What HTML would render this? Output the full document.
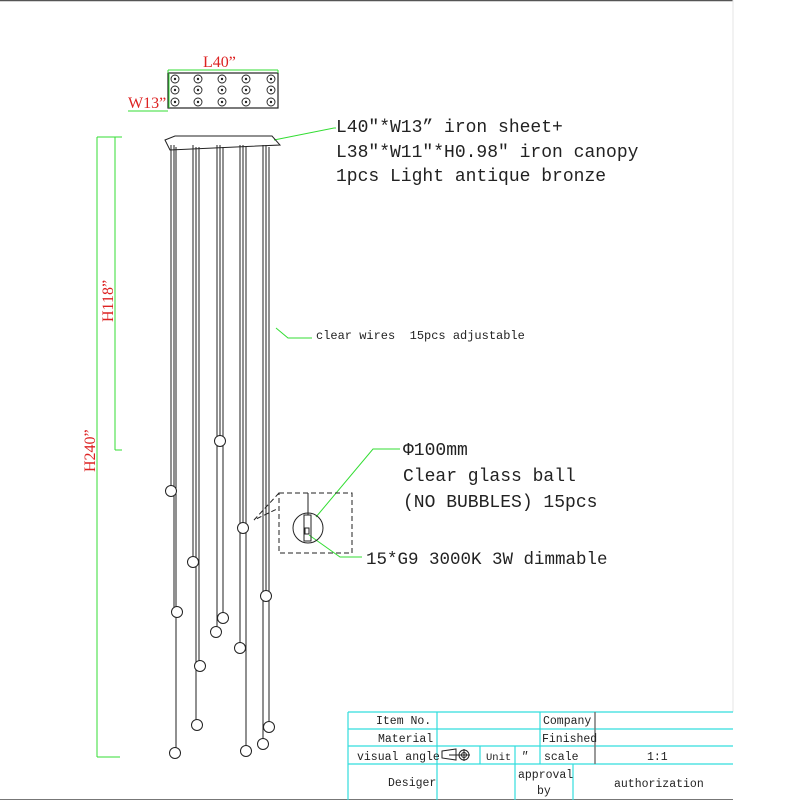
<!DOCTYPE html>
<html><head><meta charset="utf-8"><style>
html,body{margin:0;padding:0;background:#fff;}
svg{display:block}
text{font-family:"Liberation Mono","Noto Sans CJK SC",monospace;}
</style></head><body>
<svg width="800" height="800" viewBox="0 0 800 800" xmlns="http://www.w3.org/2000/svg">
<line x1="0" y1="0.5" x2="733" y2="0.5" stroke="#555" stroke-width="1.5"/>
<line x1="733" y1="0" x2="733" y2="712" stroke="#e4e4e4" stroke-width="1"/>
<line x1="0" y1="799.5" x2="733" y2="799.5" stroke="#777" stroke-width="1"/>

<g stroke="#222" fill="none">
<rect x="168" y="73" width="110" height="35" stroke-width="1.2"/>
<g stroke-width="0.9">
<circle cx="175" cy="79" r="4"/><circle cx="175" cy="90" r="4"/><circle cx="175" cy="102" r="4"/>
<circle cx="198" cy="79" r="4"/><circle cx="198" cy="90" r="4"/><circle cx="198" cy="102" r="4"/>
<circle cx="222" cy="79" r="4"/><circle cx="222" cy="90" r="4"/><circle cx="222" cy="102" r="4"/>
<circle cx="246" cy="79" r="4"/><circle cx="246" cy="90" r="4"/><circle cx="246" cy="102" r="4"/>
<circle cx="271" cy="79" r="4"/><circle cx="271" cy="90" r="4"/><circle cx="271" cy="102" r="4"/>
</g></g>
<g fill="#222">
<circle cx="175" cy="79" r="1.2"/><circle cx="175" cy="90" r="1.2"/><circle cx="175" cy="102" r="1.2"/>
<circle cx="198" cy="79" r="1.2"/><circle cx="198" cy="90" r="1.2"/><circle cx="198" cy="102" r="1.2"/>
<circle cx="222" cy="79" r="1.2"/><circle cx="222" cy="90" r="1.2"/><circle cx="222" cy="102" r="1.2"/>
<circle cx="246" cy="79" r="1.2"/><circle cx="246" cy="90" r="1.2"/><circle cx="246" cy="102" r="1.2"/>
<circle cx="271" cy="79" r="1.2"/><circle cx="271" cy="90" r="1.2"/><circle cx="271" cy="102" r="1.2"/>
</g>
<g stroke="#33dd33" stroke-width="1" fill="none">
<line x1="168" y1="70" x2="278" y2="70"/>
<line x1="168" y1="70" x2="168" y2="73"/><line x1="278" y1="70" x2="278" y2="73"/>
<line x1="169" y1="73" x2="169" y2="108"/>
<line x1="128" y1="111" x2="168" y2="111"/>
<line x1="115" y1="137" x2="115" y2="450"/><line x1="97" y1="137" x2="97" y2="757"/>
<line x1="97" y1="137" x2="122" y2="137"/><line x1="115" y1="450" x2="122" y2="450"/>
<line x1="97" y1="757" x2="120" y2="757"/>
<polyline points="274,140 334,128 336,128"/>
<polyline points="276,328 288,338 312,338"/>
<polyline points="316,517 373,449 400,449"/>
<polyline points="309,535 340,557 362,557"/>
</g>
<g fill="#d22" font-size="16">
<text x="203" y="67" style="font-family:'Liberation Serif',serif">L40”</text>
<text x="128" y="108" style="font-family:'Liberation Serif',serif">W13”</text>
<text transform="translate(113,322) rotate(-90)" style="font-family:'Liberation Serif',serif">H118”</text>
<text transform="translate(95,472) rotate(-90)" style="font-family:'Liberation Serif',serif">H240”</text>
</g>

<g stroke="#222" fill="none" stroke-width="1">
<polygon points="165,140 175,136 272,136 280,145 170,150"/>
</g>
<g stroke="#222" stroke-width="1" fill="none">
<line x1="171" y1="145" x2="171" y2="486"/><line x1="174" y1="145" x2="174" y2="607"/><line x1="176" y1="147" x2="176" y2="748"/>
<line x1="193" y1="145" x2="193" y2="557"/><line x1="196" y1="147" x2="196" y2="720"/><line x1="199" y1="147" x2="199" y2="661"/>
<line x1="217" y1="145" x2="217" y2="627"/><line x1="220" y1="145" x2="220" y2="436"/><line x1="223" y1="147" x2="223" y2="613"/>
<line x1="240" y1="145" x2="240" y2="643"/><line x1="243" y1="145" x2="243" y2="523"/><line x1="246" y1="147" x2="246" y2="746"/>
<line x1="263" y1="145" x2="263" y2="739"/><line x1="266" y1="145" x2="266" y2="591"/><line x1="269" y1="147" x2="269" y2="722"/>
</g>
<g stroke="#222" stroke-width="1" fill="#fff">
<circle cx="171" cy="491" r="5.5"/><circle cx="193" cy="562" r="5.5"/><circle cx="220" cy="441" r="5.5"/>
<circle cx="243" cy="528" r="5.5"/><circle cx="177" cy="612" r="5.5"/><circle cx="266" cy="596" r="5.5"/>
<circle cx="223" cy="618" r="5.5"/><circle cx="216" cy="632" r="5.5"/><circle cx="240" cy="648" r="5.5"/>
<circle cx="200" cy="666" r="5.5"/><circle cx="197" cy="725" r="5.5"/><circle cx="269" cy="727" r="5.5"/>
<circle cx="175" cy="753" r="5.5"/><circle cx="246" cy="751" r="5.5"/><circle cx="263" cy="744" r="5.5"/>
</g>
<g stroke="#222" fill="none" stroke-width="1">
<rect x="279" y="493" width="73" height="60" stroke-dasharray="5,3"/>
<polyline points="279,493 254,520 279,508" stroke-dasharray="5,3"/>
<line x1="308" y1="493" x2="308" y2="515"/>
<circle cx="308" cy="528" r="15"/>
<rect x="304" y="515" width="7" height="26"/>
<rect x="305" y="528" width="4" height="6"/>
</g>

<g fill="#222" font-size="18">
<text x="336" y="132">L40″*W13” iron sheet+</text>
<text x="336" y="157">L38″*W11″*H0.98″ iron canopy</text>
<text x="336" y="181">1pcs Light antique bronze</text>
<text x="403" y="455">Φ100mm</text>
<text x="403" y="481">Clear glass ball</text>
<text x="403" y="507">(NO BUBBLES) 15pcs</text>
<text x="366" y="564" font-size="17.5">15*G9 3000K 3W dimmable</text>
<text x="316" y="339" font-size="12" xml:space="preserve">clear wires  15pcs adjustable</text>
</g>

<g stroke="#33dddd" stroke-width="1.2" fill="none">
<line x1="348" y1="712" x2="733" y2="712"/>
<line x1="348" y1="729" x2="733" y2="729"/>
<line x1="348" y1="746" x2="733" y2="746"/>
<line x1="348" y1="764" x2="733" y2="764"/>
<line x1="348" y1="712" x2="348" y2="800"/>
<line x1="437" y1="712" x2="437" y2="800"/>
<line x1="480" y1="746" x2="480" y2="764"/>
<line x1="515" y1="746" x2="515" y2="800"/>
<line x1="540" y1="712" x2="540" y2="764"/>
<line x1="573" y1="764" x2="573" y2="800"/>
</g>
<line x1="595" y1="712" x2="595" y2="764" stroke="#777" stroke-width="1.5"/>
<g fill="#222" font-size="11.5">
<text x="376" y="724">Item No.</text>
<text x="378" y="742">Material</text>
<text x="357" y="760">visual angle</text>
<text x="486" y="760" font-size="10.5">Unit</text>
<text x="521" y="760" font-style="italic">″</text>
<text x="544" y="760">scale</text>
<text x="647" y="760">1:1</text>
<text x="543" y="724">Company</text>
<text x="542" y="742">Finished</text>
<text x="388" y="786">Desiger</text>
<text x="518" y="778">approval</text>
<text x="537" y="794">by</text>
<text x="614" y="787">authorization</text>
</g>
<g stroke="#222" fill="none" stroke-width="1">
<polygon points="442,751 456,749 456,760 442,758"/>
<line x1="449" y1="755" x2="459" y2="755"/>
<circle cx="464" cy="755" r="5"/><circle cx="464" cy="755" r="2.5"/>
<line x1="458" y1="755" x2="470" y2="755"/><line x1="464" y1="749" x2="464" y2="761"/>
</g>
</svg>
</body></html>
